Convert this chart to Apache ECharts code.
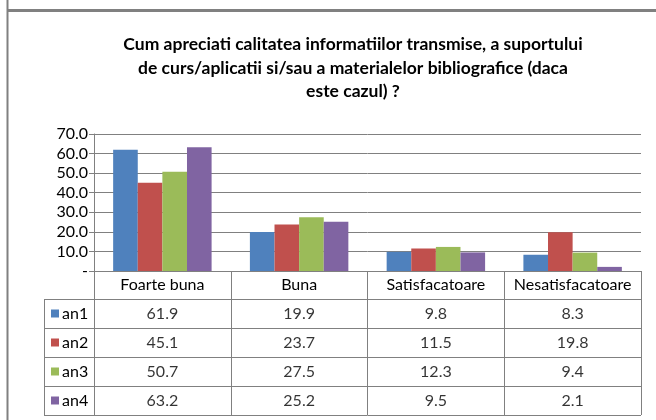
<!DOCTYPE html>
<html>
<head>
<meta charset="utf-8">
<script src="https://cdn.jsdelivr.net/npm/echarts@6/dist/echarts.min.js"></script>
<style>
  html, body { margin: 0; padding: 0; background: #fff; }
  #chart { width: 656px; height: 420px; }
</style>
</head>
<body>
<div id="chart"></div>
<script>
// categories and yearly series (percent)
const categories = ['Foarte buna', 'Buna', 'Satisfacatoare', 'Nesatisfacatoare'];
const seriesNames = ['an1', 'an2', 'an3', 'an4'];
const an1 = [61.9, 19.9, 9.8, 8.3];
const an2 = [45.1, 23.7, 11.5, 19.8];
const an3 = [50.7, 27.5, 12.3, 9.4];
const an4 = [63.2, 25.2, 9.5, 2.1];
const yTicks = [0, 10, 20, 30, 40, 50, 60, 70];

const values = [an1, an2, an3, an4];
const colors = ['#4F81BD', '#C0504D', '#9BBB59', '#8064A2'];
const gridColor = '#808080';
const font = 'Lato';

var chartDom = document.getElementById('chart');
var myChart = echarts.init(chartDom);
var option;

// bars
let series = values.map((v, i) => ({
  name: seriesNames[i],
  type: 'bar',
  xAxisIndex: 0,
  yAxisIndex: 0,
  data: v,
  barGap: '0%',
  barCategoryGap: '28%',
  itemStyle: { color: colors[i] },
  silent: true
}));

// data table cells
let cells = [];
values.forEach((v, i) => v.forEach((val, j) => cells.push([j, i, val])));
series.push({
  type: 'scatter',
  xAxisIndex: 1,
  yAxisIndex: 1,
  data: cells,
  symbolSize: 1,
  itemStyle: { color: 'rgba(0,0,0,0)' },
  label: {
    show: true,
    position: 'inside',
    color: '#000',
    fontFamily: font,
    fontSize: 16,
    formatter: p => p.value[2].toFixed(1)
  },
  silent: true
});

let rich = { t: { fontFamily: font, fontSize: 16, color: '#000', padding: [0, 0, 0, 3] } };
colors.forEach((c, i) => { rich['s' + i] = { backgroundColor: c, width: 8, height: 8 }; });

option = {
  animation: false,
  title: {
    text: 'Cum apreciati calitatea informatiilor transmise, a suportului\nde curs/aplicatii si/sau a materialelor bibliografice (daca\neste cazul) ?',
    left: 353,
    top: 33,
    padding: 0,
    textAlign: 'center',
    textStyle: {
      fontFamily: font,
      fontSize: 17.5,
      fontWeight: 'bold',
      color: '#000',
      lineHeight: 23.5
    }
  },
  grid: [
    { left: 94, right: 15, top: 134, height: 137 },
    { left: 94, right: 15, top: 299, height: 116 },
    { left: 44, width: 50, top: 299, height: 116 }
  ],
  xAxis: [
    {
      type: 'category',
      gridIndex: 0,
      data: categories,
      axisLine: { lineStyle: { color: gridColor } },
      axisTick: { show: true, interval: 0, length: 28, lineStyle: { color: gridColor } },
      axisLabel: { interval: 0, margin: 6, color: '#000', fontFamily: font, fontSize: 16 }
    },
    {
      type: 'category',
      gridIndex: 1,
      data: categories,
      axisLine: { show: false },
      axisTick: { show: false },
      axisLabel: { show: false },
      splitLine: { show: true, interval: 0, lineStyle: { color: gridColor } }
    },
    {
      type: 'category',
      gridIndex: 2,
      data: [''],
      axisLine: { show: false },
      axisTick: { show: false },
      axisLabel: { show: false },
      splitLine: { show: true, interval: 0, lineStyle: { color: gridColor } }
    }
  ],
  yAxis: [
    {
      type: 'value',
      gridIndex: 0,
      min: yTicks[0],
      max: yTicks[yTicks.length - 1],
      interval: 10,
      axisLine: { show: true, lineStyle: { color: gridColor } },
      axisTick: { show: true, length: 5, lineStyle: { color: gridColor } },
      axisLabel: {
        margin: 6,
        color: '#000',
        fontFamily: font,
        fontSize: 16,
        formatter: v => v === 0 ? '-' : v.toFixed(1)
      },
      splitLine: { lineStyle: { color: gridColor } }
    },
    {
      type: 'category',
      gridIndex: 1,
      data: seriesNames,
      inverse: true,
      axisLine: { show: false },
      axisTick: { show: false },
      axisLabel: { show: false },
      splitLine: { show: true, interval: 0, lineStyle: { color: gridColor } }
    },
    {
      type: 'category',
      gridIndex: 2,
      data: seriesNames,
      inverse: true,
      axisLine: { show: false },
      axisTick: { show: false },
      axisLabel: {
        inside: true,
        margin: 7,
        formatter: (v, i) => '{s' + i + '|}{t|' + v + '}',
        rich: rich
      },
      splitLine: { show: true, interval: 0, lineStyle: { color: gridColor } }
    }
  ],
  graphic: [
    { type: 'line', shape: { x1: 7.5, y1: 0, x2: 7.5, y2: 420 }, style: { stroke: '#808080', lineWidth: 2 }, silent: true },
    { type: 'line', shape: { x1: 7, y1: 10.5, x2: 656, y2: 10.5 }, style: { stroke: '#808080', lineWidth: 3 }, silent: true }
  ],
  series: series
};

myChart.setOption(option);
</script>
</body>
</html>
